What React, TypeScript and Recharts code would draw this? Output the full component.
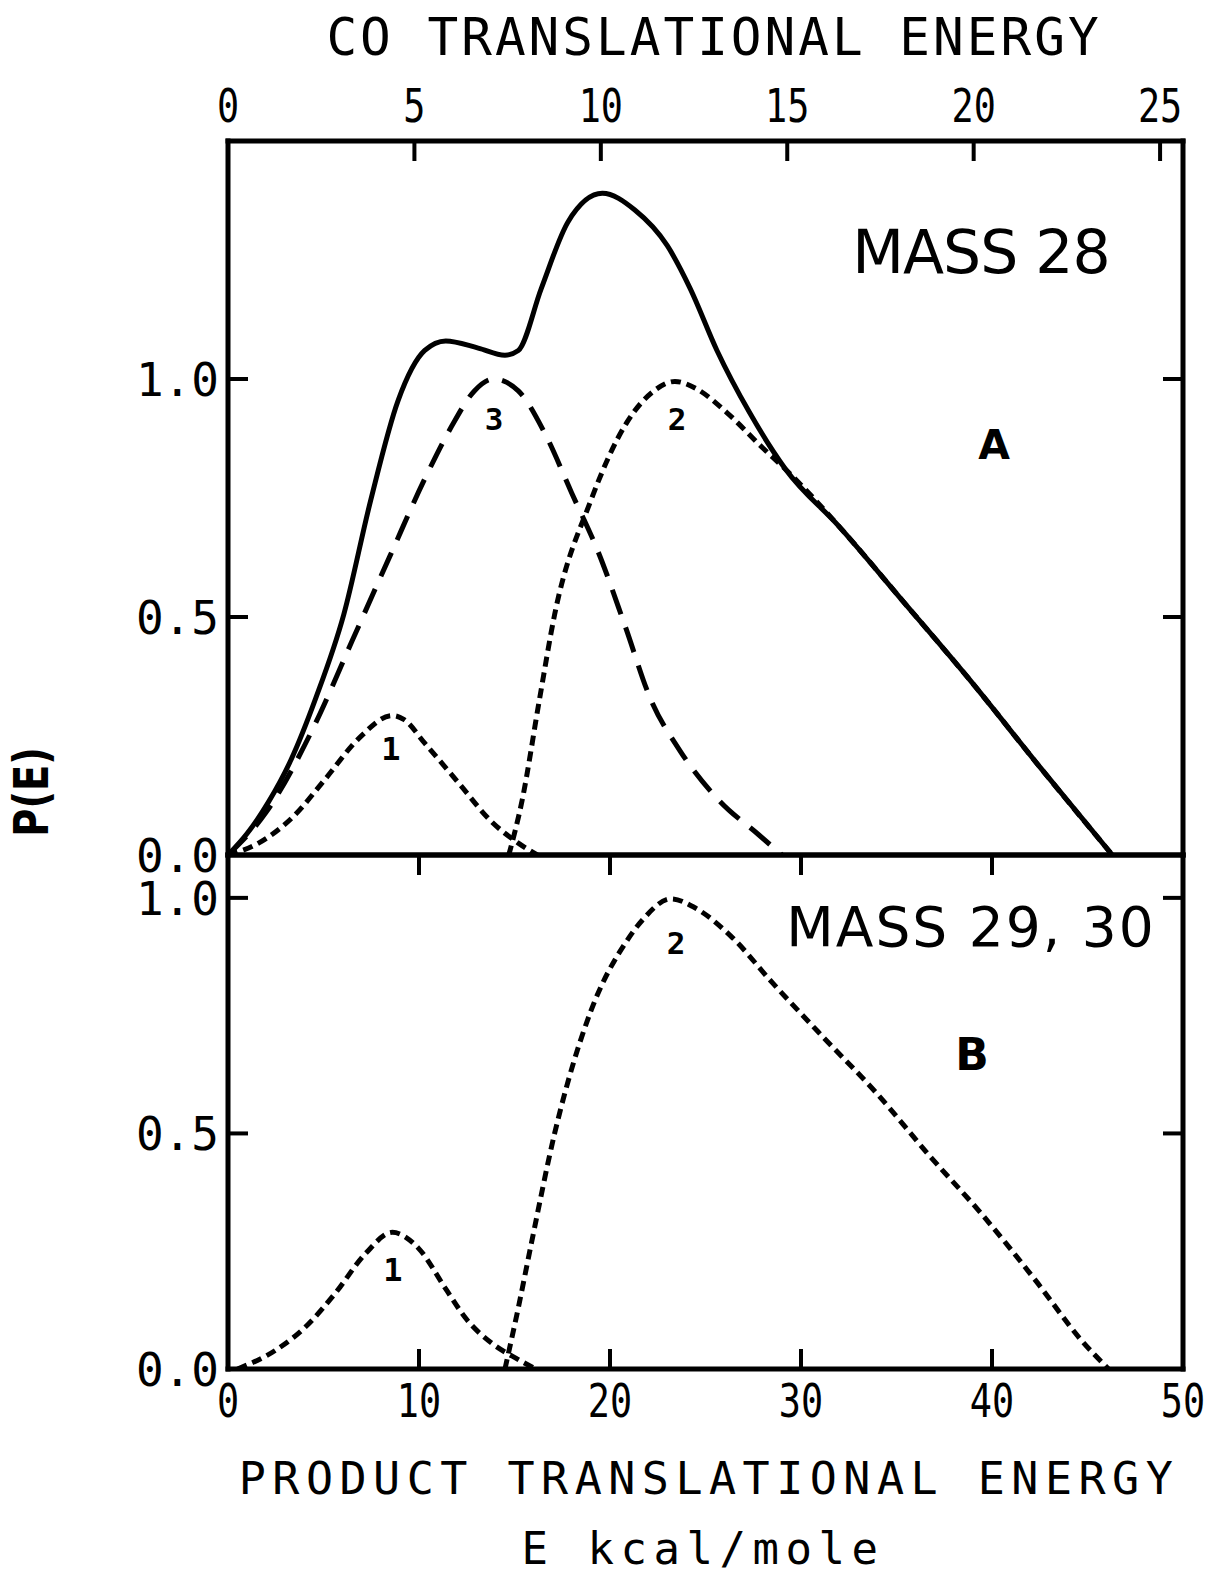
import { LineChart, Line, XAxis, YAxis } from "recharts";

// Panel A (MASS 28): product translational energy E (kcal/mole) vs P(E)
const sumE = [0, 1.0, 2.1, 3.3, 4.6, 6.06, 7.47, 8.9, 10.3, 11.4, 13.1, 14.5, 15.2, 16.4, 17.8, 19.6, 21.3, 23.0, 24.2, 25.6, 27.3, 29.2, 32.0, 35.3, 39.0, 42.5, 46.3];
const sumP = [0, 0.045, 0.11, 0.2, 0.33, 0.505, 0.745, 0.954, 1.06, 1.08, 1.065, 1.05, 1.06, 1.19, 1.33, 1.39, 1.355, 1.28, 1.19, 1.06, 0.93, 0.81, 0.69, 0.535, 0.36, 0.185, 0];

const a3E = [0, 2.0, 4.5, 6.5, 8.5, 10.3, 11.7, 12.9, 13.9, 15.2, 16.6, 18.0, 19.4, 20.8, 22.1, 23.65, 25.7, 27.8, 29.0];
const a3P = [0, 0.09, 0.27, 0.45, 0.63, 0.79, 0.9, 0.975, 1.0, 0.975, 0.885, 0.76, 0.635, 0.48, 0.33, 0.22, 0.115, 0.042, 0];

const a1E = [0, 1.6, 3.4, 5.1, 6.85, 8.6, 9.2, 10.3, 12.1, 13.8, 15.2, 16.2];
const a1P = [0, 0.025, 0.08, 0.16, 0.245, 0.293, 0.285, 0.235, 0.15, 0.07, 0.025, 0];

const a2E = [14.7, 15.4, 16.3, 17.1, 19.0, 20.9, 22.3, 23.4, 24.5, 26.1, 28.0, 29.2, 32.0, 35.3, 39.0, 42.5, 46.3];
const a2P = [0, 0.115, 0.325, 0.505, 0.745, 0.91, 0.975, 0.995, 0.98, 0.93, 0.855, 0.81, 0.69, 0.535, 0.36, 0.185, 0];

// Panel B (MASS 29, 30)
const b1E = [0.5, 2.5, 4.2, 5.6, 7.2, 8.6, 10.0, 11.4, 12.5, 13.8, 15.2, 16.1];
const b1P = [0, 0.04, 0.095, 0.16, 0.245, 0.29, 0.255, 0.17, 0.105, 0.055, 0.02, 0];

const b2E = [14.5, 15.2, 15.9, 17.1, 19.0, 20.9, 21.7, 23.2, 24.4, 26.3, 28.5, 31.1, 33.9, 36.7, 39.5, 42.3, 44.7, 46.1];
const b2P = [0, 0.13, 0.27, 0.5, 0.76, 0.91, 0.953, 0.998, 0.98, 0.92, 0.82, 0.707, 0.588, 0.454, 0.327, 0.187, 0.06, 0];

const productTicks = [0, 10, 20, 30, 40, 50];
const innerTicks = [10, 20, 30, 40];
const coTicks = [0, 5, 10, 15, 20, 25];
const pTicks = [0, 0.5, 1];
// product energy that matches CO energy 25 on the top scale
const coAt25 = 48.8;
const coTickPos = coTicks.map((v) => (v * coAt25) / 25);

const pts = (e: number[], p: number[]) => e.map((v, i) => ({ e: v, p: p[i] }));

const MONO = "'DejaVu Sans Mono', monospace";
const SANS = "'DejaVu Sans', sans-serif";
const frame = { stroke: "#000", strokeWidth: 5, strokeLinecap: "square" as const };
const tickLine = { stroke: "#000", strokeWidth: 4 };

function XTick(props: any) {
  const { x, y, payload, side } = props;
  const base = side === "top" ? y : y + 33;
  const label = side === "top" ? Math.round((payload.value * 25) / coAt25) : payload.value;
  return (
    <text
      transform={`translate(${x},${base}) scale(0.8,1)`}
      textAnchor="middle"
      fontFamily={MONO}
      fontSize={46}
      fill="#000"
    >
      {label}
    </text>
  );
}

function YTick(props: any) {
  const { x, y, payload } = props;
  return (
    <text x={x} y={y + 17} textAnchor="end" fontFamily={MONO} fontSize={46} fill="#000">
      {Number(payload.value).toFixed(1)}
    </text>
  );
}

const NoTick = () => <g />;

function T({ x, y, size, family = MONO, weight = "normal", spacing = 0, children }: any) {
  return (
    <text
      x={x}
      y={y}
      textAnchor="middle"
      fontFamily={family}
      fontWeight={weight}
      fontSize={size}
      letterSpacing={spacing}
      fill="#000"
    >
      {children}
    </text>
  );
}

function Labels() {
  return (
    <svg
      width={1209}
      height={1576}
      style={{ position: "absolute", left: 0, top: 0, pointerEvents: "none" }}
    >
      <T x={714} y={55} size={51} spacing={3}>CO TRANSLATIONAL ENERGY</T>
      <T x={981} y={273} size={60} family={SANS} spacing={-1}>MASS 28</T>
      <T x={994} y={459} size={41} family={SANS} weight="bold">A</T>
      <T x={494} y={430} size={31} weight="bold">3</T>
      <T x={677} y={430} size={31} weight="bold">2</T>
      <T x={391} y={760} size={32} weight="bold">1</T>
      <T x={971} y={946} size={55} family={SANS} spacing={2}>MASS 29, 30</T>
      <T x={972} y={1070} size={44} family={SANS} weight="bold">B</T>
      <T x={676} y={954} size={31} weight="bold">2</T>
      <T x={393} y={1281} size={32} weight="bold">1</T>
      <T x={709} y={1494} size={45} spacing={6.5}>PRODUCT TRANSLATIONAL ENERGY</T>
      <T x={703} y={1564} size={44} spacing={6.5}>E kcal/mole</T>
      <g transform="translate(48,792) rotate(-90) scale(0.8,1)">
        <text x={0} y={0} textAnchor="middle" fontFamily={SANS} fontWeight="bold" fontSize={48} fill="#000">
          P(E)
        </text>
      </g>
    </svg>
  );
}

const solid = { stroke: "#000", strokeWidth: 5, dot: false, isAnimationActive: false, type: "monotone" as const };

export default function App() {
  return (
    <div style={{ position: "absolute", left: 0, top: 0, width: 1209, height: 1576, background: "#fff" }}>
      {/* panel A */}
      <div style={{ position: "absolute", left: 0, top: 0 }}>
        <LineChart width={1209} height={900} margin={{ top: 0, right: 0, bottom: 0, left: 0 }}>
          <XAxis xAxisId="co" dataKey="e" type="number" domain={[0, 50]} allowDataOverflow orientation="top" height={141} ticks={coTickPos} interval={0} tickSize={-20} tickMargin={39} tickLine={tickLine} axisLine={frame} tick={(p: any) => <XTick {...p} side="top" />} />
          <XAxis xAxisId="p" dataKey="e" type="number" domain={[0, 50]} allowDataOverflow orientation="bottom" height={45} tick={false} tickLine={false} axisLine={frame} />
          <YAxis yAxisId="l" type="number" domain={[0, 1.5]} allowDataOverflow width={228} ticks={pTicks} interval={0} tickSize={-20} tickMargin={29} tickLine={tickLine} axisLine={frame} tick={YTick} />
          <YAxis yAxisId="r" orientation="right" type="number" domain={[0, 1.5]} allowDataOverflow width={26} ticks={pTicks} interval={0} tickSize={-20} tickLine={tickLine} axisLine={frame} tick={NoTick} />
          <Line xAxisId="co" yAxisId="l" data={pts(sumE, sumP)} dataKey="p" {...solid} />
          <Line xAxisId="p" yAxisId="l" data={pts(a3E, a3P)} dataKey="p" {...solid} strokeDasharray="26 14" />
          <Line xAxisId="co" yAxisId="l" data={pts(a1E, a1P)} dataKey="p" {...solid} strokeDasharray="10 6" />
          <Line xAxisId="p" yAxisId="l" data={pts(a2E, a2P)} dataKey="p" {...solid} strokeDasharray="10 6" />
        </LineChart>
      </div>
      {/* panel B */}
      <div style={{ position: "absolute", left: 0, top: 795 }}>
        <LineChart width={1209} height={634} margin={{ top: 0, right: 0, bottom: 0, left: 0 }}>
          <XAxis xAxisId="p" dataKey="e" type="number" domain={[0, 50]} allowDataOverflow orientation="bottom" height={60} ticks={productTicks} interval={0} tickSize={-20} tickMargin={35} tickLine={tickLine} axisLine={frame} tick={(p: any) => <XTick {...p} side="bottom" />} />
          <XAxis xAxisId="t" dataKey="e" type="number" domain={[0, 50]} allowDataOverflow orientation="top" height={60} ticks={innerTicks} interval={0} tickSize={-20} tickLine={tickLine} axisLine={frame} tick={NoTick} />
          <YAxis yAxisId="l" type="number" domain={[0, 1.091]} allowDataOverflow width={228} ticks={pTicks} interval={0} tickSize={-20} tickMargin={29} tickLine={tickLine} axisLine={frame} tick={YTick} />
          <YAxis yAxisId="r" orientation="right" type="number" domain={[0, 1.091]} allowDataOverflow width={26} ticks={pTicks} interval={0} tickSize={-20} tickLine={tickLine} axisLine={frame} tick={NoTick} />
          <Line xAxisId="t" yAxisId="l" data={pts(b1E, b1P)} dataKey="p" {...solid} strokeDasharray="10 6" />
          <Line xAxisId="p" yAxisId="l" data={pts(b2E, b2P)} dataKey="p" {...solid} strokeDasharray="10 6" />
        </LineChart>
      </div>
      <Labels />
    </div>
  );
}
